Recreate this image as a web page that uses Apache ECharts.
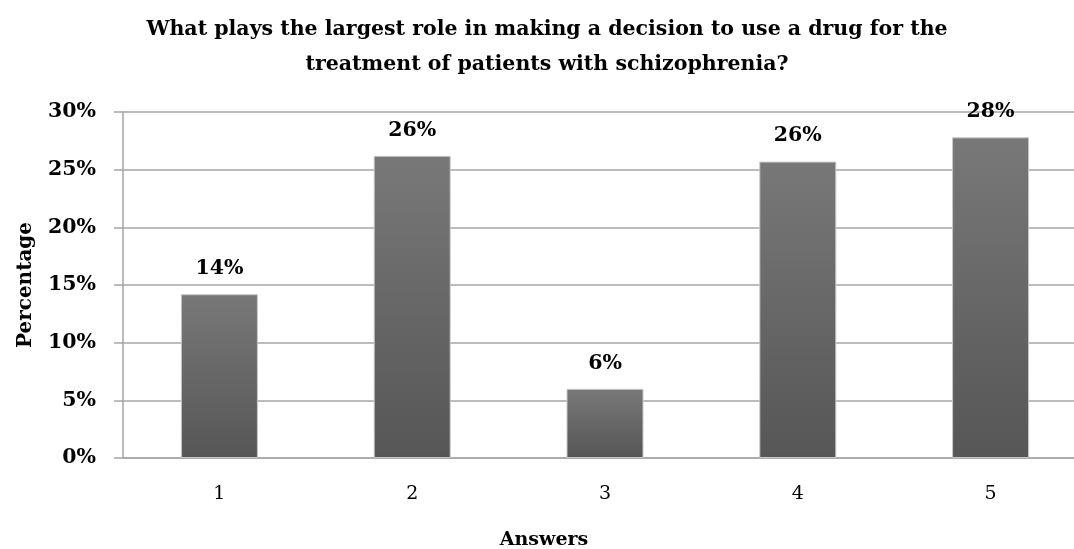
<!DOCTYPE html>
<html><head><meta charset="utf-8">
<script src="https://cdn.jsdelivr.net/npm/echarts@6/dist/echarts.min.js"></script>
<style>html,body{margin:0;padding:0;background:#fff}#c{width:1074px;height:549px}</style>
</head><body><div id="c"></div>
<script>
var categories = ['1', '2', '3', '4', '5'];
var values = [14.2, 26.2, 6.0, 25.7, 27.8];
var labels = ['14%', '26%', '6%', '26%', '28%'];
var yTicks = [0, 5, 10, 15, 20, 25, 30];
var F = '"DejaVu Serif", "Liberation Serif", serif';
var chart = echarts.init(document.getElementById('c'));
chart.setOption({
  animation: false,
  title: [
    {text: 'What plays the largest role in making a decision to use a drug for the\ntreatment of patients with schizophrenia?', left: 542, top: 7, textAlign: 'center',
     textStyle: {fontFamily: F, fontWeight: 'bold', fontSize: 20.5, color: '#000', lineHeight: 35}},
    {text: 'Answers', left: 539, top: 526, textAlign: 'center', textStyle: {fontFamily: F, fontWeight: 'bold', fontSize: 19, color: '#000'}}
  ],
  grid: {left: 123, top: 112, width: 964, height: 346, outerBoundsMode: 'none', containLabel: false},
  xAxis: {type: 'category', data: categories,
    axisLine: {lineStyle: {color: '#a6a6a6', width: 1.5}}, axisTick: {show: false},
    axisLabel: {fontFamily: F, fontSize: 19, color: '#000', margin: 27}},
  yAxis: {type: 'value', min: 0, max: 30, interval: 5,
    name: 'Percentage', nameLocation: 'middle', nameGap: 87, nameRotate: 90,
    nameTextStyle: {fontFamily: F, fontWeight: 'bold', fontSize: 20, color: '#000'},
    axisLine: {show: true, lineStyle: {color: '#a6a6a6', width: 1.5}},
    axisTick: {show: true, length: 9, lineStyle: {color: '#a6a6a6', width: 1.5}},
    splitLine: {lineStyle: {color: '#a6a6a6', width: 1.5}},
    axisLabel: {fontFamily: F, fontWeight: 'bold', fontSize: 20.5, color: '#000', margin: 27,
      formatter: function (v) { return yTicks.indexOf(v) >= 0 ? v + '%' : ''; }}},
  series: [{type: 'bar', data: values, barWidth: 77,
    itemStyle: {borderColor: '#c8c8c8', borderWidth: 1,
      color: new echarts.graphic.LinearGradient(0, 0, 0, 1, [{offset: 0, color: '#787878'}, {offset: 1, color: '#565656'}], false)},
    label: {show: true, position: 'top', distance: 15, fontFamily: F, fontWeight: 'bold', fontSize: 20.5, color: '#000',
      formatter: function (p) { return labels[p.dataIndex]; }}}]
});
</script></body></html>
